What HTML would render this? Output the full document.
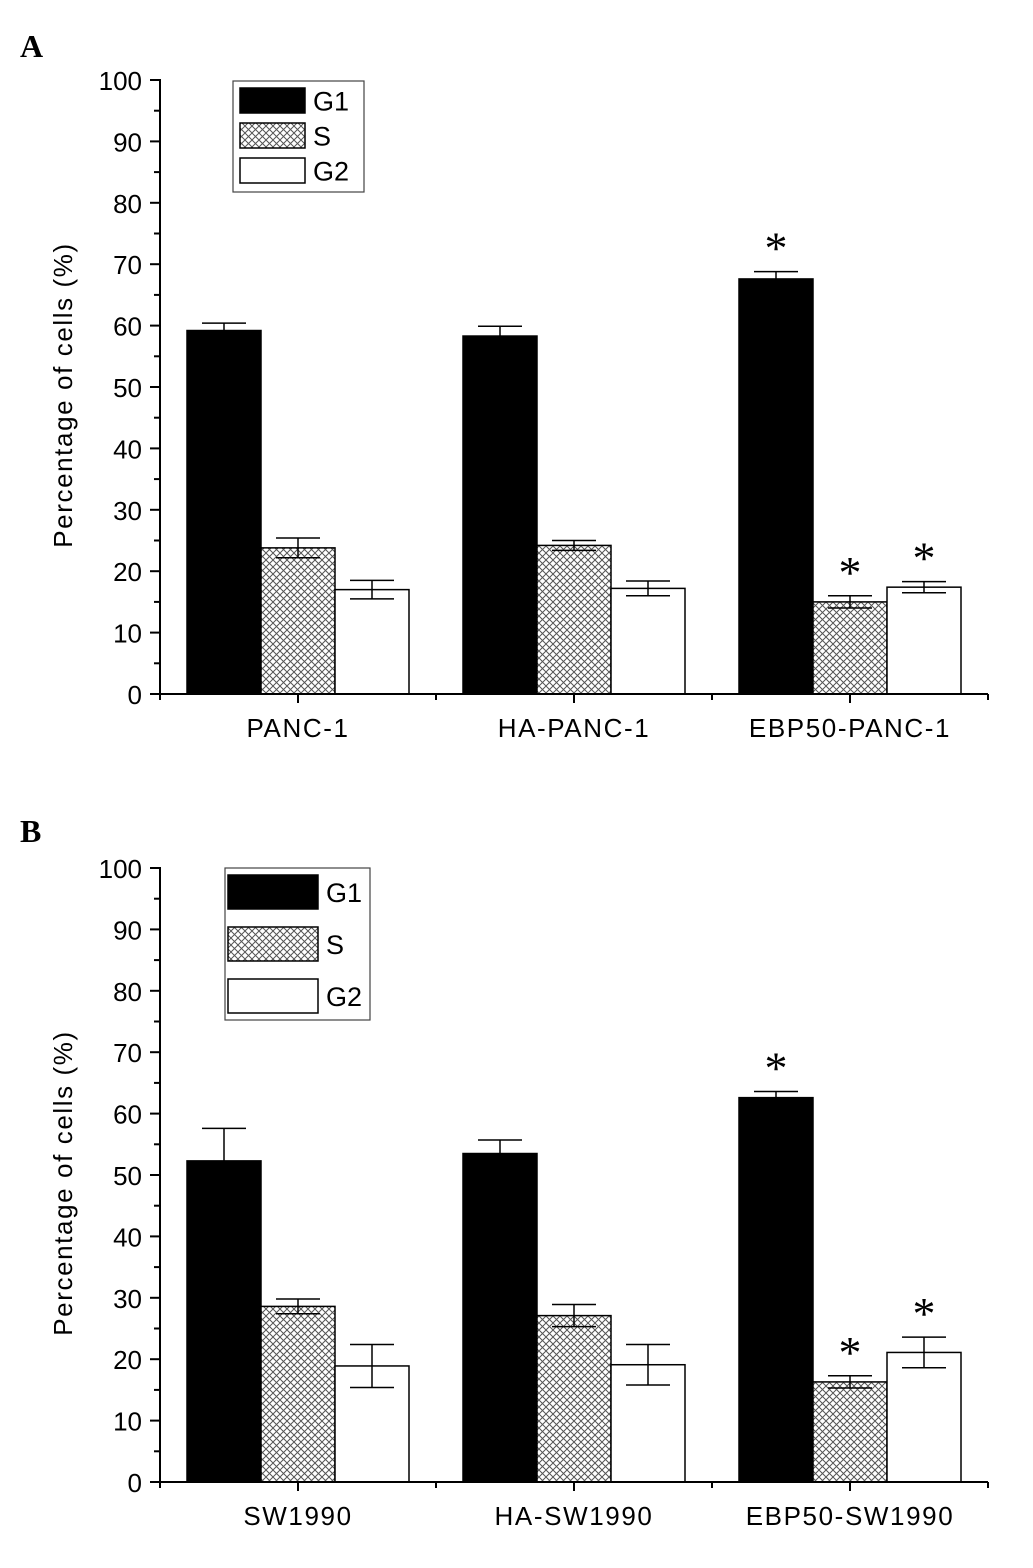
<!DOCTYPE html>
<html><head><meta charset="utf-8"><style>
body{margin:0;background:#fff;}
</style></head><body>
<svg id="chart" width="1033" height="1563" xmlns="http://www.w3.org/2000/svg" font-family="Liberation Sans, Arial, sans-serif">
<defs>
<pattern id="hatch" width="7" height="7" patternUnits="userSpaceOnUse">
<rect width="7" height="7" fill="#fff"/>
<path d="M0,0L7,7M7,0L0,7" stroke="#555" stroke-width="1"/>
</pattern>
</defs>
</svg>
<script>
const seriesNames = ["G1","S","G2"];
const catsA = ["PANC-1","HA-PANC-1","EBP50-PANC-1"];
const catsB = ["SW1990","HA-SW1990","EBP50-SW1990"];
const g1A = [59.2,58.3,67.6], sA = [23.8,24.2,15.0], g2A = [17.0,17.2,17.4];
const g1AErr = [1.2,1.6,1.2], sAErr = [1.6,0.8,1.0], g2AErr = [1.5,1.2,0.9];
const g1B = [52.3,53.5,62.6], sB = [28.6,27.1,16.3], g2B = [18.9,19.1,21.1];
const g1BErr = [5.3,2.2,1.0], sBErr = [1.2,1.8,1.0], g2BErr = [3.5,3.3,2.5];
const sigA = [[false,false,false],[false,false,false],[true,true,true]];
const sigB = [[false,false,false],[false,false,false],[true,true,true]];
const yTicks = [0,10,20,30,40,50,60,70,80,90,100];

const svg = document.getElementById('chart');
const NS = "http://www.w3.org/2000/svg";
function el(tag, attrs, parent){const e=document.createElementNS(NS,tag);for(const k in attrs)e.setAttribute(k,attrs[k]);(parent||svg).appendChild(e);return e;}
const fills = ["#000","url(#hatch)","#fff"];
const SERIF = "Liberation Serif, serif";

function panel(opts){
  const {label,labelY,y0,cats,vals,errs,sig,legend} = opts;
  const x0 = 160, xEnd = 988, ppu = 6.14;
  const y = v => y0 - v*ppu;
  const groupW = (xEnd - x0)/3;
  const barW = 74;
  const g = el('g',{});
  
  
  const t = el('text',{x:20,y:labelY,'font-size':32,'font-weight':'bold','font-family':SERIF},g);
  t.textContent = label;
  
  
  cats.forEach((c,i)=>{
    const cx = x0 + groupW*(i+0.5);
    for(let s=0;s<3;s++){
      const bx = cx - 1.5*barW + s*barW;
      const v = vals[s][i], e = errs[s][i];
      const r = el('rect',{x:bx,y:y(v),width:barW,height:v*ppu,fill:fills[s],stroke:'#000','stroke-width':1.5},g);
      
      
      const mx = bx + barW/2;
      const eg = el('g',{stroke:'#000','stroke-width':1.5},g);
      
      
      el('line',{x1:mx,x2:mx,y1:y(v+e),y2:y(v-e)},eg);
      el('line',{x1:mx-22,x2:mx+22,y1:y(v+e),y2:y(v+e)},eg);
      el('line',{x1:mx-22,x2:mx+22,y1:y(v-e),y2:y(v-e)},eg);
      if(sig[i][s]){
        const st = el('text',{x:mx,y:y(v+e)-8,'font-size':46,'text-anchor':'middle','font-family':SERIF},g);
        st.textContent='*';
        
        
      }
    }
    const tl = el('text',{x:cx,y:y0+43,'font-size':26,'letter-spacing':1.6,'text-anchor':'middle'},g);
    tl.textContent = c;
    
    
  });
  const ax = el('g',{stroke:'#000','stroke-width':2},g);
  
  
  el('line',{x1:x0,x2:x0,y1:y(100)-1,y2:y0+1},ax);
  el('line',{x1:x0,x2:xEnd,y1:y0,y2:y0},ax);
  for(let k=0;k<=6;k++){
    const tx = x0 + groupW*k/2;
    el('line',{x1:tx,x2:tx,y1:y0,y2:y0+(k%2?9:6)},ax);
  }
  yTicks.forEach(v=>{
    el('line',{x1:x0-10,x2:x0,y1:y(v),y2:y(v)},ax);
    if(v<100) el('line',{x1:x0-6,x2:x0,y1:y(v+5),y2:y(v+5)},ax);
    const tl = el('text',{x:x0-18,y:y(v)+10,'font-size':26,'text-anchor':'end'},g);
    tl.textContent = v;
    
    
  });
  const yt = el('text',{x:0,y:0,'font-size':26,'letter-spacing':1.6,'text-anchor':'middle',transform:`translate(72,${y(50)+8}) rotate(-90)`},g);
  yt.textContent='Percentage of cells (%)';
  
  
  const L = legend;
  const lg = el('g',{},g);
  
  
  el('rect',{x:L.x,y:L.y,width:L.w,height:L.h,fill:'#fff',stroke:'#444','stroke-width':1.2},lg);
  seriesNames.forEach((n,s)=>{
    const ry = L.y + L.pad + s*L.step;
    el('rect',{x:L.sx,y:ry,width:L.sw,height:L.sh,fill:fills[s],stroke:'#000','stroke-width':1.5},lg);
    const lt = el('text',{x:L.sx+L.sw+8,y:ry+L.sh/2+10,'font-size':L.fs},lg);
    lt.textContent=n;
    
    
  });
}
panel({label:'A',labelY:57,y0:694,cats:catsA,vals:[g1A,sA,g2A],errs:[g1AErr,sAErr,g2AErr],sig:sigA,
  legend:{x:233,y:81,w:131,h:111,sx:240,sw:65,sh:25,pad:7,step:35,fs:27}});
panel({label:'B',labelY:842,y0:1482,cats:catsB,vals:[g1B,sB,g2B],errs:[g1BErr,sBErr,g2BErr],sig:sigB,
  legend:{x:225,y:868,w:145,h:152,sx:228,sw:90,sh:34,pad:7,step:52,fs:27}});
</script>
</body></html>
